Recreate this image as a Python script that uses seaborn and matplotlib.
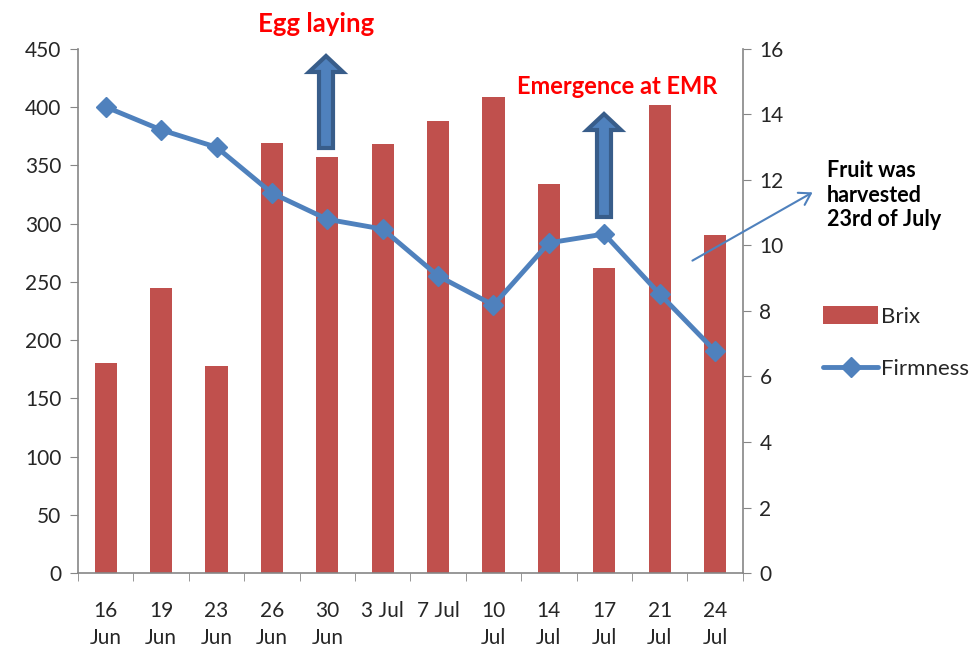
import matplotlib
matplotlib.use("Agg")
import matplotlib.pyplot as plt
import seaborn as sns
import pandas as pd
import numpy as np
from matplotlib.patches import FancyArrow, Patch
from matplotlib.lines import Line2D

dates = ["16\nJun", "19\nJun", "23\nJun", "26\nJun", "30\nJun", "3 Jul", "7 Jul",
         "10\nJul", "14\nJul", "17\nJul", "21\nJul", "24\nJul"]
brix = [180, 245, 178, 369, 357, 368, 388, 409, 334, 262, 402, 290]
firmness = [14.23, 13.53, 13.0, 11.6, 10.8, 10.5, 9.07, 8.18, 10.08, 10.35, 8.52, 6.78]

sns.set_style("white")
plt.rcParams['font.family'] = ['Lato', 'DejaVu Sans']

BAR = "#C0504D"
LINE = "#4F81BD"

fig = plt.figure(figsize=(9.76, 6.53), dpi=100)
ax = fig.add_axes([0.08, 0.1225, 0.681, 0.8025])
df = pd.DataFrame({"date": dates, "brix": brix, "firmness": firmness})
sns.barplot(data=df, x="date", y="brix", color=BAR, width=0.4, ax=ax,
            saturation=1, edgecolor="none")
ax.set_ylim(0, 450)
ax.set_yticks(np.arange(0, 451, 50))
ax.set_xlim(-0.5, 11.5)
ax.set_xlabel("")
ax.set_ylabel("")

ax2 = ax.twinx()
ax2.plot(np.arange(len(dates)), firmness, color=LINE, lw=3.5, marker="D",
         markersize=10, zorder=5)
ax2.set_ylim(0, 16)
ax2.set_yticks(np.arange(0, 17, 2))
ax2.set_xlim(-0.5, 11.5)

for a in (ax, ax2):
    for s in a.spines.values():
        s.set_visible(False)
ax.spines['left'].set_visible(True)
ax.spines['bottom'].set_visible(True)
ax2.spines['right'].set_visible(True)
for s in [ax.spines['left'], ax.spines['bottom'], ax2.spines['right']]:
    s.set_color("#868686")
    s.set_linewidth(1.2)

ax.tick_params(axis='y', direction='out', length=6, color="#868686", labelsize=15, pad=6, left=True)
ax2.tick_params(axis='y', direction='out', length=6, color="#868686", labelsize=15, pad=6, right=True)
ax.set_xticks(np.arange(len(dates)))
ax.set_xticklabels(dates, fontsize=15, linespacing=1.45)
ax.tick_params(axis='x', length=0, pad=20)
ax.set_xticks(np.arange(-0.5, 12, 1), minor=True)
ax.tick_params(axis='x', which='minor', direction='out', length=6, color="#868686", bottom=True)
ax.tick_params(axis='x', which='major', bottom=False)

# annotations
fig.text(316/976, 1 - 24/653, "Egg laying", color="red", fontsize=18.5, fontweight="bold",
         ha="center", va="center")
fig.text(617/976, 1 - 87/653, "Emergence at EMR", color="red", fontsize=17, fontweight="bold",
         ha="center", va="center")
fig.text(827/976, 1 - 195/653, "Fruit was\nharvested\n23rd of July", color="black",
         fontsize=15.5, fontweight="bold", ha="left", va="center", linespacing=1.22)

def block_arrow(xc, ytail, yhead):
    x = xc / 976
    y0 = 1 - ytail / 653
    y1 = 1 - yhead / 653
    arr = FancyArrow(x, y0, 0, y1 - y0, width=14/976, head_width=34/976,
                     head_length=16/653, length_includes_head=True,
                     transform=fig.transFigure, facecolor=LINE, edgecolor="#385D8A",
                     linewidth=3, zorder=10)
    fig.add_artist(arr)

block_arrow(326, 148, 56)
block_arrow(604, 217, 114)

fig.add_artist(matplotlib.patches.FancyArrowPatch(
    (690/976, 1 - 262/653), (815/976, 1 - 191/653), transform=fig.transFigure,
    arrowstyle="->,head_length=8,head_width=5", color=LINE, lw=1.5, mutation_scale=1))

handles = [Patch(facecolor=BAR, edgecolor="none", label="Brix"),
           Line2D([0], [0], color=LINE, lw=3.5, marker="D", markersize=10, label="Firmness")]
fig.legend(handles=handles, loc="center left", bbox_to_anchor=(0.834, 0.475),
           frameon=False, fontsize=16, handlelength=2.5, handleheight=0.85,
           labelspacing=1.45, handletextpad=0.1, borderaxespad=0)

fig.savefig("out.png", dpi=100)
